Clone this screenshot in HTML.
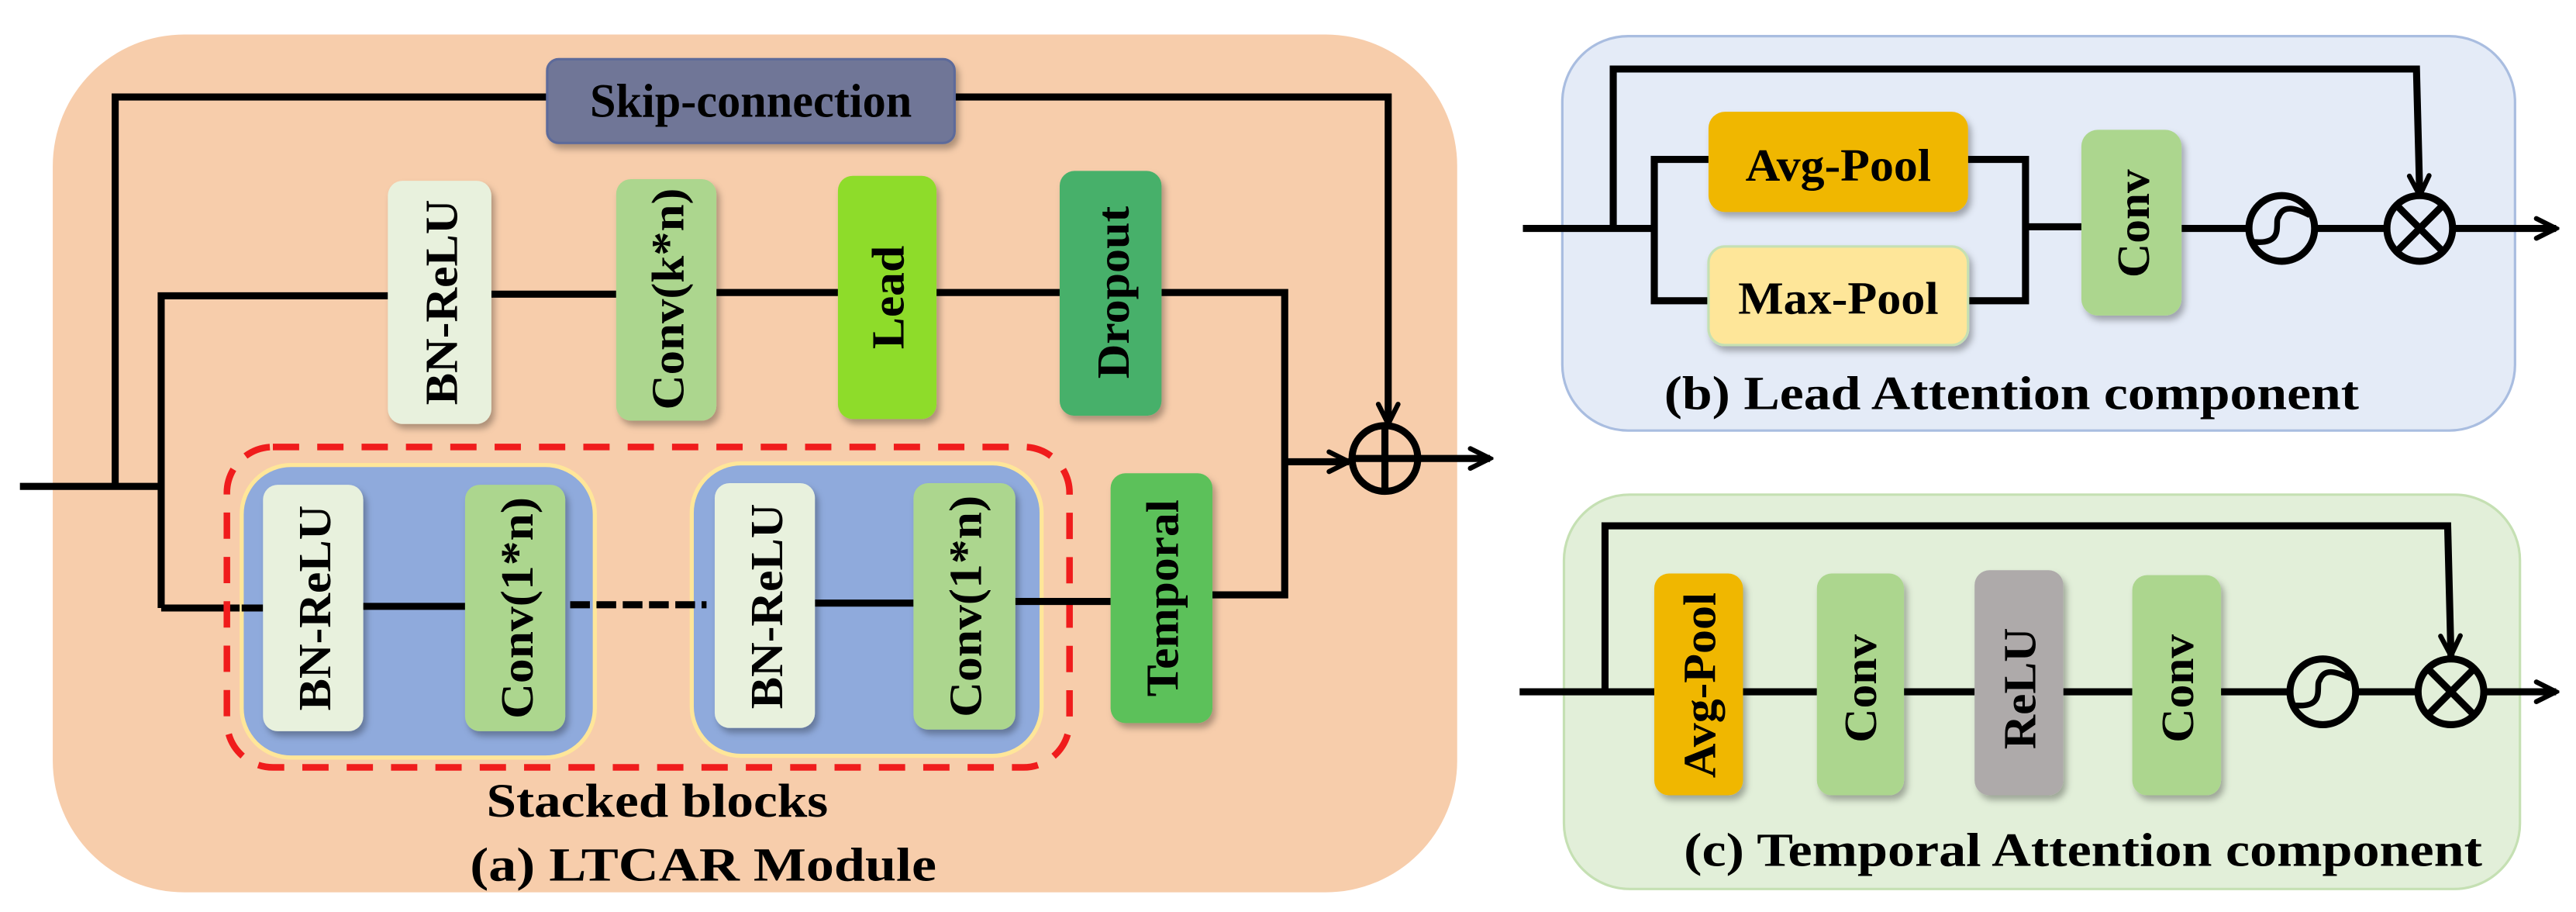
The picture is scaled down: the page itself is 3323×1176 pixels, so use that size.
<!DOCTYPE html>
<html><head><meta charset="utf-8"><style>
html,body{margin:0;padding:0;background:#fff;}
svg{display:block;}
text{font-family:"Liberation Serif",serif;font-weight:bold;fill:#000;}
</style></head><body>
<svg width="3323" height="1176" viewBox="0 0 1568 555" xmlns="http://www.w3.org/2000/svg">
<defs>
<filter id="sh" x="-20%" y="-20%" width="150%" height="150%">
<feDropShadow dx="2" dy="3" stdDeviation="2" flood-color="#000" flood-opacity="0.3"/>
</filter>
<marker id="ah" viewBox="0 0 16 16" refX="14" refY="8" markerWidth="16" markerHeight="16" markerUnits="userSpaceOnUse" orient="auto">
<path d="M2,2 L14,8 L2,14" fill="none" stroke="#000" stroke-width="3" stroke-linecap="round" stroke-linejoin="miter"/>
</marker>
</defs>

<!-- Panel A -->
<rect x="32" y="21" width="855" height="522" rx="80" fill="#f7cdab"/>
<g stroke="#000" stroke-width="4.3" fill="none">
<polyline points="12,296 98,296"/>
<polyline points="70,296 70,59 333,59"/>
<polyline points="581,59 845,59 845,258" marker-end="url(#ah)"/>
<polyline points="98,370 98,180 236,180"/>
<line x1="299" y1="179" x2="375" y2="179"/>
<line x1="436" y1="178" x2="510" y2="178"/>
<line x1="570" y1="178" x2="645" y2="178"/>
<polyline points="707,178 782,178 782,362 738,362"/>
<polyline points="782,281 821,281" marker-end="url(#ah)"/>
<line x1="98" y1="370" x2="160" y2="370"/>
<circle cx="843" cy="279" r="20"/>
<line x1="823" y1="279" x2="863" y2="279"/>
<line x1="843" y1="259" x2="843" y2="299"/>
<line x1="863" y1="279" x2="907" y2="279" marker-end="url(#ah)"/>
</g>

<rect x="333" y="36" width="248" height="51" rx="7" fill="#6f7697" stroke="#5d6a9a" stroke-width="1.5" filter="url(#sh)"/>
<text x="457" y="71" font-size="29" text-anchor="middle" textLength="196" lengthAdjust="spacingAndGlyphs">Skip-connection</text>

<g filter="url(#sh)">
<rect x="236" y="110" width="63" height="148" rx="9" fill="#e8f1dd"/>
<rect x="375" y="109" width="61" height="147" rx="9" fill="#acd68e"/>
<rect x="510" y="107" width="60" height="148" rx="9" fill="#8edc2c"/>
<rect x="645" y="104" width="62" height="149" rx="9" fill="#47b06a"/>
</g>
<text transform="translate(278,184) rotate(-90)" font-size="28" text-anchor="middle" textLength="125" lengthAdjust="spacingAndGlyphs">BN-ReLU</text>
<text transform="translate(416,182) rotate(-90)" font-size="28" text-anchor="middle" textLength="135" lengthAdjust="spacingAndGlyphs">Conv(k*n)</text>
<text transform="translate(550,181) rotate(-90)" font-size="28" text-anchor="middle" textLength="63" lengthAdjust="spacingAndGlyphs">Lead</text>
<text transform="translate(687,178) rotate(-90)" font-size="28" text-anchor="middle" textLength="105" lengthAdjust="spacingAndGlyphs">Dropout</text>

<!-- stacked blocks -->
<rect x="138" y="272" width="513" height="195" rx="28" fill="none" stroke="#f01c1c" stroke-width="4" stroke-dasharray="16,11"/>
<rect x="147" y="283" width="215" height="178" rx="30" fill="#8faadc" stroke="#ffe699" stroke-width="2.5"/>
<rect x="421" y="282" width="213" height="178" rx="30" fill="#8faadc" stroke="#ffe699" stroke-width="2.5"/>
<g stroke="#000" stroke-width="4.3" fill="none">
<line x1="147" y1="370" x2="160" y2="370"/>
<line x1="221" y1="369" x2="283" y2="369"/>
<line x1="347" y1="368" x2="430" y2="368" stroke-dasharray="12,4"/>
<line x1="496" y1="367" x2="556" y2="367"/>
<line x1="618" y1="366" x2="676" y2="366"/>
</g>
<g filter="url(#sh)">
<rect x="160" y="295" width="61" height="150" rx="9" fill="#e8f1dd"/>
<rect x="283" y="295" width="61" height="150" rx="9" fill="#acd68e"/>
<rect x="435" y="294" width="61" height="149" rx="9" fill="#e8f1dd"/>
<rect x="556" y="294" width="62" height="150" rx="9" fill="#acd68e"/>
<rect x="676" y="288" width="62" height="152" rx="9" fill="#5cc15a"/>
</g>
<text transform="translate(201,370) rotate(-90)" font-size="28" text-anchor="middle" textLength="125" lengthAdjust="spacingAndGlyphs">BN-ReLU</text>
<text transform="translate(324,370) rotate(-90)" font-size="28" text-anchor="middle" textLength="135" lengthAdjust="spacingAndGlyphs">Conv(1*n)</text>
<text transform="translate(476,369) rotate(-90)" font-size="28" text-anchor="middle" textLength="125" lengthAdjust="spacingAndGlyphs">BN-ReLU</text>
<text transform="translate(597,369) rotate(-90)" font-size="28" text-anchor="middle" textLength="135" lengthAdjust="spacingAndGlyphs">Conv(1*n)</text>
<text transform="translate(717,364) rotate(-90)" font-size="28" text-anchor="middle" textLength="120" lengthAdjust="spacingAndGlyphs">Temporal</text>

<text x="400" y="497" font-size="29" text-anchor="middle" textLength="208" lengthAdjust="spacingAndGlyphs">Stacked blocks</text>
<text x="428" y="536" font-size="29" text-anchor="middle" textLength="284" lengthAdjust="spacingAndGlyphs">(a)  LTCAR Module</text>

<!-- Panel B -->
<rect x="951" y="22" width="580" height="240" rx="40" fill="#e4ebf7" stroke="#a9bde0" stroke-width="1.5"/>
<g stroke="#000" stroke-width="4.3" fill="none">
<line x1="927" y1="139" x2="1007" y2="139"/>
<polyline points="982,139 982,42 1471,42 1473,119" marker-end="url(#ah)"/>
<polyline points="1040,97 1007,97 1007,183 1040,183"/>
<polyline points="1198,97 1233,97 1233,183 1198,183"/>
<line x1="1233" y1="138" x2="1268" y2="138"/>
<line x1="1328" y1="139" x2="1368" y2="139"/>
<circle cx="1389" cy="139" r="20"/>
<path d="M1370,147 C1392,150 1384,135 1387,132 C1390,124 1398,127 1406,131" stroke-width="3.5"/>
<line x1="1409" y1="139" x2="1453" y2="139"/>
<circle cx="1473" cy="139" r="20"/>
<line x1="1459" y1="125" x2="1487" y2="153"/>
<line x1="1487" y1="125" x2="1459" y2="153"/>
<line x1="1493" y1="139" x2="1556" y2="139" marker-end="url(#ah)"/>
</g>
<g filter="url(#sh)">
<rect x="1040" y="68" width="158" height="61" rx="10" fill="#f0b706"/>
<rect x="1040" y="150" width="158" height="60" rx="10" fill="#fee699" stroke="#c5e0b3" stroke-width="1.5"/>
<rect x="1267" y="79" width="61" height="113" rx="10" fill="#acd68e"/>
</g>
<text x="1119" y="110" font-size="28" text-anchor="middle" textLength="113" lengthAdjust="spacingAndGlyphs">Avg-Pool</text>
<text x="1119" y="191" font-size="28" text-anchor="middle" textLength="122" lengthAdjust="spacingAndGlyphs">Max-Pool</text>
<text transform="translate(1308,136) rotate(-90)" font-size="28" text-anchor="middle" textLength="66" lengthAdjust="spacingAndGlyphs">Conv</text>
<text x="1013" y="249" font-size="29" textLength="423" lengthAdjust="spacingAndGlyphs">(b) Lead Attention component</text>

<!-- Panel C -->
<rect x="952" y="301" width="582" height="240" rx="40" fill="#e2efd9" stroke="#c5e0b3" stroke-width="1.5"/>
<g stroke="#000" stroke-width="4.3" fill="none">
<line x1="925" y1="421" x2="1007" y2="421"/>
<polyline points="977,421 977,320 1490,320 1492,399" marker-end="url(#ah)"/>
<line x1="1061" y1="421" x2="1106" y2="421"/>
<line x1="1159" y1="421" x2="1202" y2="421"/>
<line x1="1256" y1="421" x2="1298" y2="421"/>
<line x1="1352" y1="421" x2="1393" y2="421"/>
<circle cx="1414" cy="421" r="20"/>
<path d="M1395,429 C1417,432 1409,417 1412,414 C1415,406 1423,409 1431,413" stroke-width="3.5"/>
<line x1="1434" y1="421" x2="1472" y2="421"/>
<circle cx="1492" cy="421" r="20"/>
<line x1="1478" y1="407" x2="1506" y2="435"/>
<line x1="1506" y1="407" x2="1478" y2="435"/>
<line x1="1512" y1="421" x2="1556" y2="421" marker-end="url(#ah)"/>
</g>
<g filter="url(#sh)">
<rect x="1007" y="349" width="54" height="135" rx="9" fill="#f0b706"/>
<rect x="1106" y="349" width="53" height="135" rx="9" fill="#acd68e"/>
<rect x="1202" y="347" width="54" height="137" rx="9" fill="#aeaaaa"/>
<rect x="1298" y="350" width="54" height="134" rx="9" fill="#acd68e"/>
</g>
<text transform="translate(1044,417) rotate(-90)" font-size="28" text-anchor="middle" textLength="113" lengthAdjust="spacingAndGlyphs">Avg-Pool</text>
<text transform="translate(1142,419) rotate(-90)" font-size="28" text-anchor="middle" textLength="66" lengthAdjust="spacingAndGlyphs">Conv</text>
<text transform="translate(1239,419) rotate(-90)" font-size="28" text-anchor="middle" textLength="74" lengthAdjust="spacingAndGlyphs">ReLU</text>
<text transform="translate(1335,419) rotate(-90)" font-size="28" text-anchor="middle" textLength="66" lengthAdjust="spacingAndGlyphs">Conv</text>
<text x="1025" y="527" font-size="29" textLength="486" lengthAdjust="spacingAndGlyphs">(c) Temporal Attention component</text>
</svg>
</body></html>
